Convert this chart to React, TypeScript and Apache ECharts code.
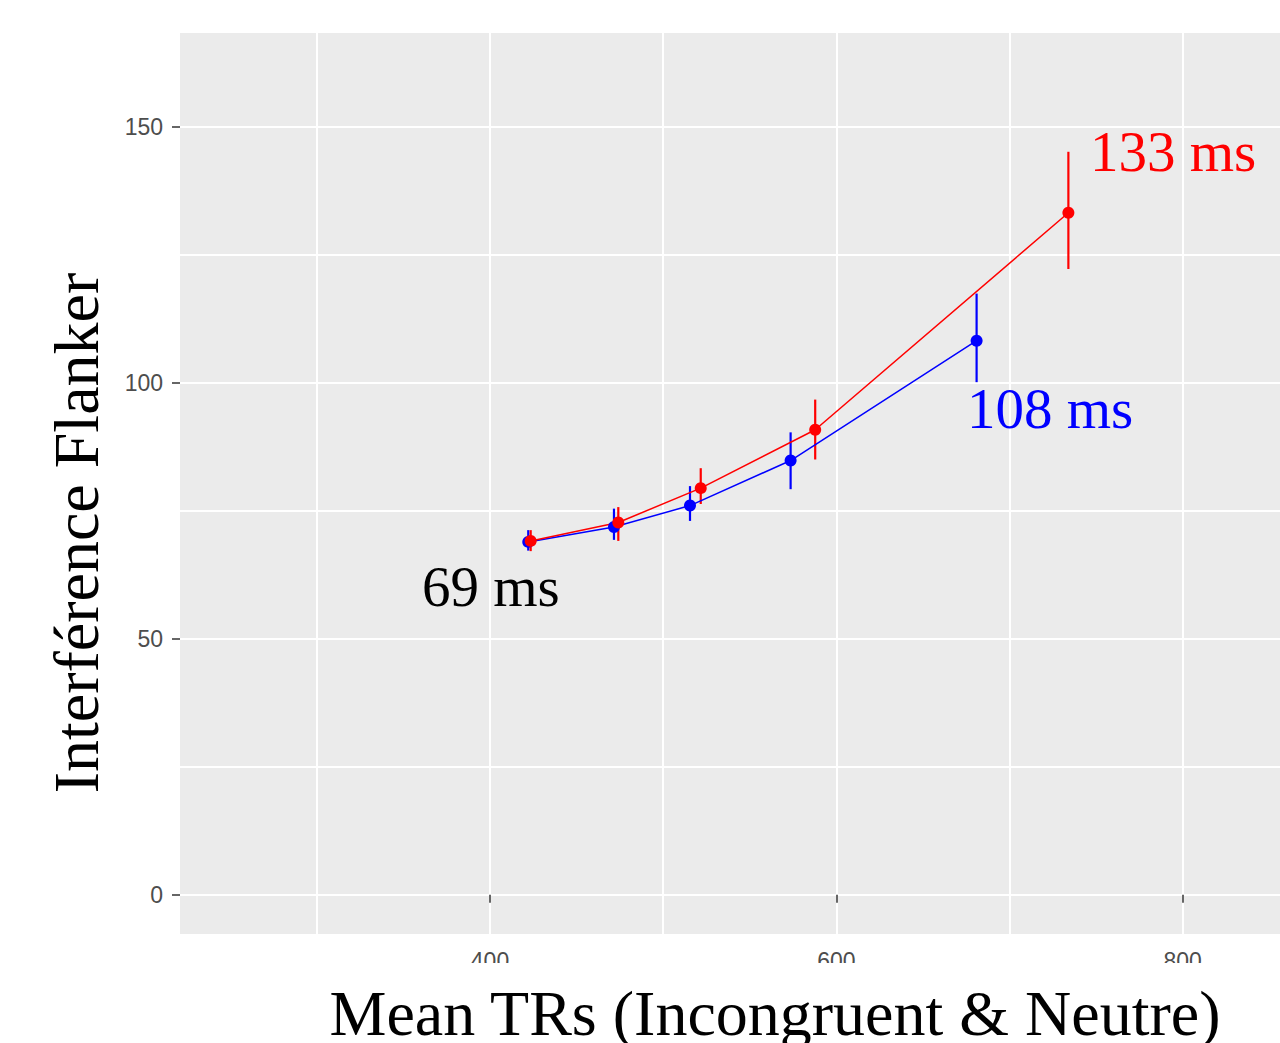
import React, { useEffect, useRef } from "react";
import * as echarts from "echarts";

// ---- data ----
const redX = [423.5, 474.1, 521.7, 587.8, 734.0];
const redY = [69.1, 72.7, 79.4, 90.8, 133.2];
const redLow = [67.1, 69.1, 76.3, 85.0, 122.2];
const redHigh = [71.2, 75.7, 83.3, 96.7, 145.1];

const blueX = [422.1, 471.6, 515.5, 573.6, 681.0];
const blueY = [68.9, 71.8, 76.0, 84.8, 108.2];
const blueLow = [67.2, 69.3, 73.0, 79.2, 100.1];
const blueHigh = [71.2, 75.4, 79.8, 90.3, 117.4];

const X_MIN = 221;
const X_MAX = 856.2;
const Y_MIN = -7.68;
const Y_MAX = 168.3;

const X_GRID = [300, 400, 500, 600, 700, 800];
const X_TICKS = [400, 600, 800];
const Y_GRID = [0, 25, 50, 75, 100, 125, 150];
const Y_TICKS = [0, 50, 100, 150];

const X_TITLE = "Mean TRs (Incongruent & Neutre)";
const Y_TITLE = "Interférence Flanker";
const ANNOT_RED = "133 ms";
const ANNOT_BLUE = "108 ms";
const ANNOT_BLACK = "69 ms";

const RED = "#FF0000";
const BLUE = "#0000FF";
const SERIF = "'Liberation Serif', 'Times New Roman', serif";
const SANS = "'Liberation Sans', Arial, sans-serif";

function errSeries(name: string, xs: number[], lo: number[], hi: number[], color: string) {
  return {
    name,
    type: "custom",
    xAxisIndex: 0,
    yAxisIndex: 0,
    data: xs.map((x, i) => [x, lo[i], hi[i]]),
    renderItem: (_params: any, api: any) => {
      const x = api.value(0);
      const p1 = api.coord([x, api.value(1)]);
      const p2 = api.coord([x, api.value(2)]);
      return {
        type: "line",
        shape: { x1: p1[0], y1: p1[1], x2: p2[0], y2: p2[1] },
        style: { stroke: color, lineWidth: 2.2 },
      };
    },
    silent: true,
  };
}

function lineSeries(name: string, xs: number[], ys: number[], color: string) {
  return {
    name,
    type: "line",
    xAxisIndex: 0,
    yAxisIndex: 0,
    data: xs.map((x, i) => [x, ys[i]]),
    symbol: "circle",
    symbolSize: 12,
    showSymbol: true,
    itemStyle: { color },
    lineStyle: { color, width: 1.5 },
    silent: true,
  };
}

export default function App() {
  const ref = useRef<HTMLDivElement>(null);

  useEffect(() => {
    if (!ref.current) return;
    const chart = echarts.init(ref.current, undefined, { renderer: "svg" });

    const baseX = {
      type: "value",
      min: X_MIN,
      max: X_MAX,
      position: "bottom",
      axisLine: { show: false },
    };
    const baseY = {
      type: "value",
      min: Y_MIN,
      max: Y_MAX,
      position: "left",
      axisLine: { show: false },
    };

    chart.setOption({
      animation: false,
      backgroundColor: "#FFFFFF",
      grid: {
        left: 180,
        top: 33,
        right: 0,
        bottom: 109,
        containLabel: false,
        show: true,
        backgroundColor: "#EBEBEB",
        borderWidth: 0,
      },
      xAxis: [
        {
          ...baseX,
          axisTick: { show: false, customValues: X_GRID },
          axisLabel: { show: false },
          splitLine: { show: true, lineStyle: { color: "#FFFFFF", width: 2 } },
        },
        {
          ...baseX,
          axisTick: {
            show: true,
            length: 8,
            customValues: X_TICKS,
            lineStyle: { color: "#333333", width: 1.5 },
          },
          axisLabel: {
            show: true,
            customValues: X_TICKS,
            margin: 15,
            color: "#4D4D4D",
            fontSize: 23,
            fontFamily: SANS,
          },
          splitLine: { show: false },
        },
      ],
      yAxis: [
        {
          ...baseY,
          axisTick: { show: false, customValues: Y_GRID },
          axisLabel: { show: false },
          splitLine: { show: true, lineStyle: { color: "#FFFFFF", width: 2 } },
        },
        {
          ...baseY,
          axisTick: {
            show: true,
            length: 8,
            customValues: Y_TICKS,
            lineStyle: { color: "#333333", width: 1.5 },
          },
          axisLabel: {
            show: true,
            customValues: Y_TICKS,
            margin: 17,
            color: "#4D4D4D",
            fontSize: 23,
            fontFamily: SANS,
          },
          splitLine: { show: false },
        },
      ],
      series: [
        lineSeries("blue", blueX, blueY, BLUE),
        errSeries("blueErr", blueX, blueLow, blueHigh, BLUE),
        lineSeries("red", redX, redY, RED),
        errSeries("redErr", redX, redLow, redHigh, RED),
      ],
      graphic: [
        {
          type: "rect",
          z: 100,
          shape: { x: 0, y: 963, width: 1280, height: 80 },
          style: { fill: "#FFFFFF" },
          silent: true,
        },
        {
          type: "text",
          z: 101,
          x: 775,
          y: 1013,
          style: {
            text: X_TITLE,
            font: `64px ${SERIF}`,
            fill: "#000000",
            textAlign: "center",
            textVerticalAlign: "middle",
          },
        },
        {
          type: "text",
          z: 101,
          x: 76,
          y: 533,
          rotation: Math.PI / 2,
          style: {
            text: Y_TITLE,
            font: `64px ${SERIF}`,
            fill: "#000000",
            textAlign: "center",
            textVerticalAlign: "middle",
          },
        },
        {
          type: "text",
          z: 101,
          x: 1090,
          y: 151,
          style: {
            text: ANNOT_RED,
            font: `57px ${SERIF}`,
            fill: RED,
            textAlign: "left",
            textVerticalAlign: "middle",
          },
        },
        {
          type: "text",
          z: 101,
          x: 967,
          y: 408,
          style: {
            text: ANNOT_BLUE,
            font: `57px ${SERIF}`,
            fill: BLUE,
            textAlign: "left",
            textVerticalAlign: "middle",
          },
        },
        {
          type: "text",
          z: 101,
          x: 422,
          y: 586,
          style: {
            text: ANNOT_BLACK,
            font: `57px ${SERIF}`,
            fill: "#000000",
            textAlign: "left",
            textVerticalAlign: "middle",
          },
        },
      ],
    });

    return () => {
      chart.dispose();
    };
  }, []);

  return (
    <div
      ref={ref}
      style={{ position: "fixed", left: 0, top: 0, width: 1280, height: 1043 }}
    />
  );
}
